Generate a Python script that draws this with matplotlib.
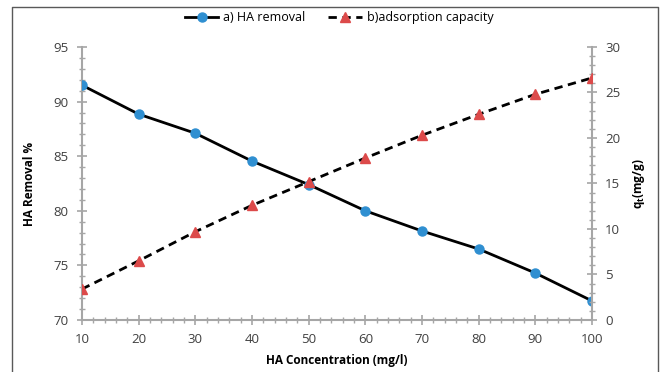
import matplotlib
matplotlib.use("Agg")
import matplotlib.pyplot as plt
from matplotlib.lines import Line2D
from matplotlib.ticker import MultipleLocator

plt.rcParams['font.family'] = ['Open Sans', 'DejaVu Sans']

# data
conc = [10, 20, 30, 40, 50, 60, 70, 80, 90, 100]
removal = [91.5, 88.85, 87.1, 84.55, 82.4, 80.0, 78.15, 76.5, 74.3, 71.75]
capacity = [3.4, 6.5, 9.7, 12.6, 15.2, 17.8, 20.3, 22.6, 24.8, 26.6]

grey = '#a6a6a6'
blue = '#2f8fd1'
red = '#dc4a4a'

fig = plt.figure(figsize=(6.65, 3.72), dpi=100)
ax = fig.add_axes([0.1233, 0.1398, 0.7669, 0.7339])
ax2 = ax.twinx()

l1, = ax.plot(conc, removal, color='black', lw=2, marker='o', ms=6.5,
              mfc=blue, mec=blue, label='a) HA removal', zorder=3)
l2, = ax2.plot(conc, capacity, color='black', lw=2, ls=(0, (3, 2)),
               marker='^', ms=7, mfc=red, mec=red,
               label='b)adsorption capacity', zorder=3)

ax.set_xlim(10, 100)
ax.set_ylim(70, 95)
ax2.set_ylim(0, 30)
ax.xaxis.set_major_locator(MultipleLocator(10))
ax.xaxis.set_minor_locator(MultipleLocator(2))
ax.yaxis.set_major_locator(MultipleLocator(5))
ax.yaxis.set_minor_locator(MultipleLocator(1))
ax2.yaxis.set_major_locator(MultipleLocator(5))
ax2.yaxis.set_minor_locator(MultipleLocator(1))

for a in (ax, ax2):
    for s in a.spines.values():
        s.set_visible(False)
    a.tick_params(which='major', direction='inout', length=7, width=1.2,
                  color=grey, labelsize=9.5, labelcolor='#404040')
    a.tick_params(which='minor', direction='inout', length=4, width=1,
                  color=grey)
ax.spines['left'].set_visible(True)
ax.spines['bottom'].set_visible(True)
ax2.spines['right'].set_visible(True)
for s in (ax.spines['left'], ax.spines['bottom'], ax2.spines['right']):
    s.set_color(grey)
    s.set_linewidth(1.5)
ax.tick_params(axis='x', pad=6)
ax.tick_params(axis='y', pad=6)
ax2.tick_params(axis='y', pad=6)

ax.set_xlabel('HA Concentration (mg/l)', fontsize=8.5, fontweight='bold')
ax.xaxis.set_label_coords(0.5, -0.125)
ax.set_ylabel('HA Removal %', fontsize=8.5, fontweight='bold')
ax.yaxis.set_label_coords(-0.09, 0.5)
ax2.set_ylabel('q$_\\mathregular{t}$(mg/g)', fontsize=8.5, fontweight='bold')
ax2.yaxis.set_label_coords(1.076, 0.5)

fig.legend(handles=[l1, l2], loc='center', bbox_to_anchor=(0.51, 0.952),
           ncol=2, frameon=False, fontsize=9, handlelength=2.7,
           columnspacing=1.8, handletextpad=0.4)

# outer frame lines
fig.add_artist(Line2D([12 / 665, 12 / 665, 658 / 665, 658 / 665],
                      [0, 1 - 7 / 372, 1 - 7 / 372, 0],
                      color='#595959', lw=1, transform=fig.transFigure))

fig.savefig('out.png', dpi=100)
